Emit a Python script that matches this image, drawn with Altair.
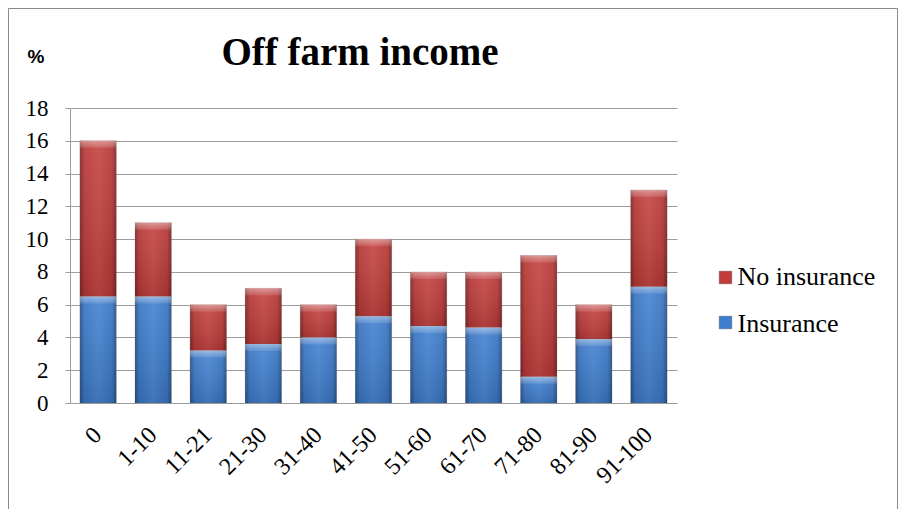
import altair as alt
import pandas as pd

categories = ["0", "1-10", "11-21", "21-30", "31-40", "41-50", "51-60", "61-70", "71-80", "81-90", "91-100"]
insurance = [6.5, 6.5, 3.2, 3.6, 4.0, 5.3, 4.7, 4.6, 1.6, 3.9, 7.1]
no_insurance = [9.5, 4.5, 2.8, 3.4, 2.0, 4.7, 3.3, 3.4, 7.4, 2.1, 5.9]
series_names = ["No insurance", "Insurance"]
series_colors = ["#C23C3A", "#3D7DCF"]
y_ticks = [0, 2, 4, 6, 8, 10, 12, 14, 16, 18]
title_text = "Off farm income"
unit_text = "%"

rows = []
for c, a, b in zip(categories, insurance, no_insurance):
    rows.append({"cat": c, "series": "Insurance", "value": a, "ord": 0})
    rows.append({"cat": c, "series": "No insurance", "value": b, "ord": 1})
df = pd.DataFrame(rows)

SERIF = "Liberation Serif"
GRAY = "#9c9c9c"

base = alt.Chart(df).transform_stack(
    stack="value", groupby=["cat"], as_=["y0", "y1"],
    sort=[alt.SortField("ord", order="ascending")]
)

x_scale = alt.Scale(paddingInner=0.34, paddingOuter=0.18)
x_axis = alt.Axis(title=None, labelAngle=-45, labelAlign="right", labelBaseline="middle",
                  labelFont=SERIF, labelFontSize=24, labelColor="black", labelOverlap=False,
                  ticks=False, labelPadding=28, domainColor=GRAY, grid=False)
y_scale = alt.Scale(domain=[0, 18], nice=False, zero=True)
y_axis = alt.Axis(title=None, values=y_ticks, labelFont=SERIF, labelFontSize=23,
                  labelColor="black", labelOverlap=False, tickSize=5, tickColor=GRAY,
                  domainColor=GRAY, grid=True, gridColor=GRAY, labelPadding=17)


def xe():
    return alt.X("cat:N", sort=categories, scale=x_scale, axis=x_axis)


def ye(field):
    return alt.Y(field, scale=y_scale, axis=y_axis)


bars = base.mark_bar(stroke="#7a7a7a", strokeOpacity=0.35, strokeWidth=0.7).encode(
    x=xe(),
    y=ye("y0:Q"),
    y2="y1:Q",
    color=alt.Color(
        "series:N",
        scale=alt.Scale(domain=series_names, range=series_colors),
        legend=None,
    ),
)

side_shade = base.mark_bar(
    fill=alt.LinearGradient(
        gradient="linear", x1=0, x2=1, y1=0, y2=0,
        stops=[
            alt.GradientStop(offset=0, color="rgba(0,0,0,0.35)"),
            alt.GradientStop(offset=0.12, color="rgba(0,0,0,0.06)"),
            alt.GradientStop(offset=0.5, color="rgba(255,255,255,0.06)"),
            alt.GradientStop(offset=0.88, color="rgba(0,0,0,0.06)"),
            alt.GradientStop(offset=1, color="rgba(0,0,0,0.35)"),
        ],
    )
).encode(x=xe(), y=ye("y0:Q"), y2="y1:Q")

vert_shade = base.mark_bar(
    fill=alt.LinearGradient(
        gradient="linear", x1=0, x2=0, y1=0, y2=1,
        stops=[
            alt.GradientStop(offset=0, color="rgba(255,255,255,0.08)"),
            alt.GradientStop(offset=1, color="rgba(0,0,0,0.12)"),
        ],
    )
).encode(x=xe(), y=ye("y0:Q"), y2="y1:Q")

bevel = base.mark_bar(
    y2Offset=7,
    fill=alt.LinearGradient(
        gradient="linear", x1=0, x2=0, y1=0, y2=1,
        stops=[
            alt.GradientStop(offset=0, color="rgba(255,255,255,0.40)"),
            alt.GradientStop(offset=1, color="rgba(255,255,255,0.10)"),
        ],
    )
).encode(x=xe(), y=ye("y1:Q"), y2="y1:Q")

# manual legend (one entry per series)
legend_layers = []
for i, (name, col) in enumerate(zip(series_names, series_colors)):
    ldf = pd.DataFrame({"name": [name]})
    sym = alt.Chart(ldf).mark_square(
        size=160, color=col, opacity=1, stroke="#555555", strokeWidth=0.4
    ).encode(x=alt.value(655.5), y=alt.value(169.5 + 45 * i))
    txt = alt.Chart(ldf).mark_text(
        font=SERIF, fontSize=26, color="black", align="left", baseline="alphabetic"
    ).encode(text="name:N", x=alt.value(667.5), y=alt.value(177 + 46.5 * i))
    legend_layers += [sym, txt]

title = alt.Chart(pd.DataFrame({"t": [title_text]})).mark_text(
    font=SERIF, fontSize=39, fontWeight="bold", color="black",
    align="center", baseline="alphabetic"
).encode(text="t:N", x=alt.value(290), y=alt.value(-43))

unit = alt.Chart(pd.DataFrame({"t": [unit_text]})).mark_text(
    font="Liberation Sans", fontSize=19, fontWeight="bold", color="black",
    align="center", baseline="alphabetic"
).encode(text="t:N", x=alt.value(-34), y=alt.value(-45))

frame = alt.Chart(pd.DataFrame({"f": [1]})).mark_rect(
    fill="transparent", stroke="#8a8a8a", strokeWidth=1
).encode(x=alt.value(-61.5), x2=alt.value(827.5), y=alt.value(-99.5), y2=alt.value(430))

chart = alt.layer(bars, side_shade, vert_shade, bevel, *legend_layers, title, unit, frame).properties(
    width=607, height=295,
    autosize=alt.AutoSizeParams(type="none"),
    padding={"left": 62, "top": 100, "right": 221, "bottom": 106},
    background="white",
).configure_view(stroke=None)

chart.save("out.html", embed_options={"renderer": "svg", "actions": False})
